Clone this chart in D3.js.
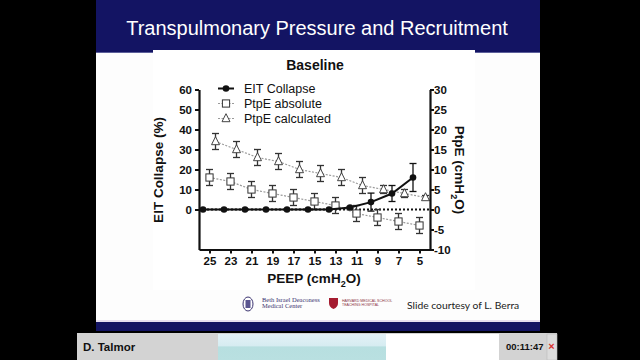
<!DOCTYPE html>
<html><head><meta charset="utf-8">
<script src="https://cdn.jsdelivr.net/npm/d3@7"></script>
<style>html,body{margin:0;padding:0;background:#000;}svg{display:block;}</style>
</head><body>
<script>
// ---- data ----
const peep = [25, 23, 21, 19, 17, 15, 13, 11, 9, 7, 5];
const eitCollapse = [0, 0, 0, 0, 0, 0, 0, 1, 3.7, 8, 16];
const eitErr = [0, 0, 0, 0, 0, 0, 0, 0.5, 4.5, 4, 7];
const ptpeAbs = [8, 7, 5, 4, 3, 2, 1, -1, -2, -3, -4];
const ptpeAbsErr = [2, 2, 2, 2, 2, 2, 2, 2, 2, 2, 2];
const ptpeCalc = [17, 15, 13, 12, 10, 9, 8, 6, 5, 4, 3];
const ptpeCalcErr = [2, 2, 2, 2, 2, 2, 2, 2, 1, 1, 0.5];
const leftTicks = [0, 10, 20, 30, 40, 50, 60];
const rightTicks = [30, 25, 20, 15, 10, 5, 0, -5, -10];
const legendLabels = ["EIT Collapse", "PtpE absolute", "PtpE calculated"];

const W = 640, H = 360;
const svg = d3.select("body").append("svg").attr("width", W).attr("height", H)
  .style("font-family", "'Liberation Sans', Arial, sans-serif");
svg.append("rect").attr("width", W).attr("height", H).attr("fill", "#000");

// ---- slide frame ----
svg.append("rect").attr("x", 96).attr("y", 0).attr("width", 444).attr("height", 53).attr("fill", "#131463");
svg.append("rect").attr("x", 96).attr("y", 52).attr("width", 444).attr("height", 1).attr("fill", "#5c5f9a");
svg.append("rect").attr("x", 96).attr("y", 53).attr("width", 444).attr("height", 268).attr("fill", "#fdfdfd");
svg.append("rect").attr("x", 153).attr("y", 50).attr("width", 322).attr("height", 240).attr("fill", "#ffffff");
svg.append("rect").attr("x", 96).attr("y", 320).attr("width", 444).attr("height", 2).attr("fill", "#e6dff0");
svg.append("rect").attr("x", 96).attr("y", 322).attr("width", 444).attr("height", 9).attr("fill", "#131463");
svg.append("text").attr("x", 317).attr("y", 35).attr("text-anchor", "middle")
  .attr("fill", "#fff").attr("font-size", 20).text("Transpulmonary Pressure and Recruitment");

// ---- chart ----
const x = d3.scaleLinear().domain([26, 4]).range([199, 430]);
const yL = d3.scaleLinear().domain([-20, 60]).range([249.5, 89.5]);
const yR = d3.scaleLinear().domain([-10, 30]).range([249.5, 89.5]);
const dodge = { eit: -6.5, abs: 0, calc: 6 };

const g = svg.append("g");

svg.append("text").attr("x", 315).attr("y", 70).attr("text-anchor", "middle")
  .attr("font-weight", "bold").attr("font-size", 14).attr("fill", "#111").text("Baseline");

// zero dotted line
g.append("line").attr("x1", x.range()[0]).attr("x2", x.range()[1])
  .attr("y1", yR(0)).attr("y2", yR(0))
  .attr("stroke", "#111").attr("stroke-width", 2).attr("stroke-dasharray", "2,2");

const idx = d3.range(peep.length);

// connecting dotted gray lines
const lineAbs = d3.line().x(i => x(peep[i]) + dodge.abs).y(i => yR(ptpeAbs[i]));
const lineCalc = d3.line().x(i => x(peep[i]) + dodge.calc).y(i => yR(ptpeCalc[i]));
g.append("path").attr("d", lineCalc(idx)).attr("fill", "none").attr("stroke", "#9a9a9a")
  .attr("stroke-width", 1.2).attr("stroke-dasharray", "2,1.5");
g.append("path").attr("d", lineAbs(idx)).attr("fill", "none").attr("stroke", "#9a9a9a")
  .attr("stroke-width", 1.2).attr("stroke-dasharray", "2,1.5");

// error bars
function errBars(vals, errs, yS, dx, color) {
  const eg = g.append("g").attr("stroke", color).attr("stroke-width", 1.3);
  idx.forEach(i => {
    if (!errs[i]) return;
    const cx = x(peep[i]) + dx;
    const y1 = yS(vals[i] + errs[i]), y2 = yS(vals[i] - errs[i]);
    eg.append("line").attr("x1", cx).attr("x2", cx).attr("y1", y1).attr("y2", y2);
    eg.append("line").attr("x1", cx - 3.5).attr("x2", cx + 3.5).attr("y1", y1).attr("y2", y1);
    eg.append("line").attr("x1", cx - 3.5).attr("x2", cx + 3.5).attr("y1", y2).attr("y2", y2);
  });
}
errBars(ptpeCalc, ptpeCalcErr, yR, dodge.calc, "#333");
errBars(ptpeAbs, ptpeAbsErr, yR, dodge.abs, "#333");
errBars(eitCollapse, eitErr, yL, dodge.eit, "#111");

// markers
const triPath = (cx, cy, s) => `M${cx},${cy - s * 0.6}L${cx + s / 2},${cy + s * 0.4}L${cx - s / 2},${cy + s * 0.4}Z`;
g.append("g").selectAll("path").data(idx).join("path")
  .attr("d", i => triPath(x(peep[i]) + dodge.calc, yR(ptpeCalc[i]), 8))
  .attr("fill", "#fff").attr("stroke", "#444").attr("stroke-width", 1);
g.append("g").selectAll("rect").data(idx).join("rect")
  .attr("x", i => x(peep[i]) + dodge.abs - 3.6).attr("y", i => yR(ptpeAbs[i]) - 3.6)
  .attr("width", 7.2).attr("height", 7.2)
  .attr("fill", "#fff").attr("stroke", "#333").attr("stroke-width", 1);

const lineEit = d3.line().x(i => x(peep[i]) + dodge.eit).y(i => yL(eitCollapse[i]));
g.append("path").attr("d", lineEit(idx)).attr("fill", "none").attr("stroke", "#111").attr("stroke-width", 2);
g.append("g").selectAll("circle").data(idx).join("circle")
  .attr("cx", i => x(peep[i]) + dodge.eit).attr("cy", i => yL(eitCollapse[i])).attr("r", 3.3)
  .attr("fill", "#111");

// axes
function styleAxis(sel) {
  sel.select(".domain").attr("stroke", "#111").attr("stroke-width", 2.2);
  sel.selectAll(".tick line").attr("stroke", "#111").attr("stroke-width", 2);
  sel.selectAll(".tick text").attr("font-weight", "bold").attr("font-size", 11.5)
    .attr("fill", "#111").style("font-family", "'Liberation Sans', Arial, sans-serif");
}
const axL = svg.append("g").attr("transform", `translate(${x.range()[0]},0)`)
  .call(d3.axisLeft(yL).tickValues(leftTicks).tickSize(4).tickSizeOuter(0).tickPadding(3));
styleAxis(axL);
const axR = svg.append("g").attr("transform", `translate(${x.range()[1]},0)`)
  .call(d3.axisRight(yR).tickValues(rightTicks).tickSize(4).tickSizeOuter(0).tickPadding(0)
    .tickFormat(d => d < 0 ? "-" + Math.abs(d) : d));
styleAxis(axR);
const axB = svg.append("g").attr("transform", `translate(0,${yL.range()[0]})`)
  .call(d3.axisBottom(x).tickValues(peep).tickSize(4).tickSizeOuter(0).tickPadding(3));
styleAxis(axB);

// axis titles
svg.append("text").attr("transform", "translate(163,170) rotate(-90)").attr("text-anchor", "middle")
  .attr("font-weight", "bold").attr("font-size", 13.5).attr("fill", "#111").text("EIT Collapse (%)");
const rt = svg.append("text").attr("transform", "translate(455,170) rotate(90)").attr("text-anchor", "middle")
  .attr("font-weight", "bold").attr("font-size", 13.5).attr("fill", "#111");
rt.append("tspan").text("PtpE (cmH");
rt.append("tspan").attr("font-size", 9).attr("dy", 4).text("2");
rt.append("tspan").attr("dy", -4).text("O)");
const bt = svg.append("text").attr("x", 314).attr("y", 283).attr("text-anchor", "middle")
  .attr("font-weight", "bold").attr("font-size", 13.5).attr("fill", "#111");
bt.append("tspan").text("PEEP (cmH");
bt.append("tspan").attr("font-size", 9).attr("dy", 4).text("2");
bt.append("tspan").attr("dy", -4).text("O)");

// legend
const lg = svg.append("g");
legendLabels.forEach((lab, k) => {
  const cy = 88.5 + k * 15;
  if (k === 0) {
    lg.append("line").attr("x1", 218).attr("x2", 234).attr("y1", cy).attr("y2", cy).attr("stroke", "#111").attr("stroke-width", 2);
    lg.append("circle").attr("cx", 226).attr("cy", cy).attr("r", 3.3).attr("fill", "#111");
  } else {
    lg.append("line").attr("x1", 218).attr("x2", 234).attr("y1", cy).attr("y2", cy).attr("stroke", "#9a9a9a")
      .attr("stroke-width", 1.2).attr("stroke-dasharray", "2,1.5");
    if (k === 1) lg.append("rect").attr("x", 222.4).attr("y", cy - 3.6).attr("width", 7.2).attr("height", 7.2)
      .attr("fill", "#fff").attr("stroke", "#333");
    else lg.append("path").attr("d", triPath(226, cy, 8)).attr("fill", "#fff").attr("stroke", "#444");
  }
  lg.append("text").attr("x", 244).attr("y", cy + 4.5).attr("font-size", 12.5).attr("fill", "#111").text(lab);
});

// ---- footer logos ----
const bi = svg.append("g");
bi.append("ellipse").attr("cx", 248).attr("cy", 304).attr("rx", 5).attr("ry", 7).attr("fill", "#fff").attr("stroke", "#3b3370").attr("stroke-width", 1);
bi.append("rect").attr("x", 245.5).attr("y", 300).attr("width", 5).attr("height", 8).attr("fill", "#5b5590");
bi.append("text").attr("x", 262).attr("y", 302).attr("font-size", 6.5).attr("fill", "#3b3370")
  .style("font-family", "'Liberation Serif', serif").text("Beth Israel Deaconess");
bi.append("text").attr("x", 262).attr("y", 308).attr("font-size", 6.5).attr("fill", "#3b3370")
  .style("font-family", "'Liberation Serif', serif").text("Medical Center");
svg.append("path").attr("d", "M329,298 L338,298 L338,303 Q338,307 333.5,309 Q329,307 329,303 Z").attr("fill", "#a51c30");
svg.append("text").attr("x", 342).attr("y", 302).attr("font-size", 3.6).attr("fill", "#8a3040").text("HARVARD MEDICAL SCHOOL");
svg.append("text").attr("x", 342).attr("y", 306).attr("font-size", 3.6).attr("fill", "#8a3040").text("TEACHING HOSPITAL");
svg.append("text").attr("x", 407).attr("y", 309).attr("font-size", 10.3).attr("fill", "#222")
  .style("font-family", "Lato, 'Open Sans', sans-serif").text("Slide courtesy of L. Berra");

// ---- bottom player bar ----
svg.append("rect").attr("x", 77).attr("y", 333).attr("width", 480).attr("height", 27).attr("fill", "#d3d3d3");
const grad = svg.append("defs").append("linearGradient").attr("id", "cy").attr("x1", 0).attr("x2", 0).attr("y1", 0).attr("y2", 1);
grad.append("stop").attr("offset", "0").attr("stop-color", "#e3f1f6");
grad.append("stop").attr("offset", "0.45").attr("stop-color", "#d6ecf1");
grad.append("stop").attr("offset", "0.5").attr("stop-color", "#b7dfe0");
grad.append("stop").attr("offset", "1").attr("stop-color", "#b9e0e1");
svg.append("rect").attr("x", 218).attr("y", 334).attr("width", 168).attr("height", 26).attr("fill", "url(#cy)");
svg.append("rect").attr("x", 386).attr("y", 334).attr("width", 113).attr("height", 26).attr("fill", "#fff");
svg.append("rect").attr("x", 547).attr("y", 334).attr("width", 10).attr("height", 26).attr("fill", "#dcdcdc").attr("stroke", "#bbb").attr("stroke-width", 0.6);
svg.append("text").attr("x", 83).attr("y", 351).attr("font-size", 11.5).attr("font-weight", "bold").attr("fill", "#111").text("D. Talmor");
svg.append("text").attr("x", 506).attr("y", 349.5).attr("font-size", 9.5).attr("font-weight", "bold").attr("fill", "#111").text("00:11:47");
svg.append("text").attr("x", 551.5).attr("y", 349.5).attr("text-anchor", "middle").attr("font-size", 11).attr("font-weight", "bold").attr("fill", "#d9302c").text("×");
</script>
</body></html>
